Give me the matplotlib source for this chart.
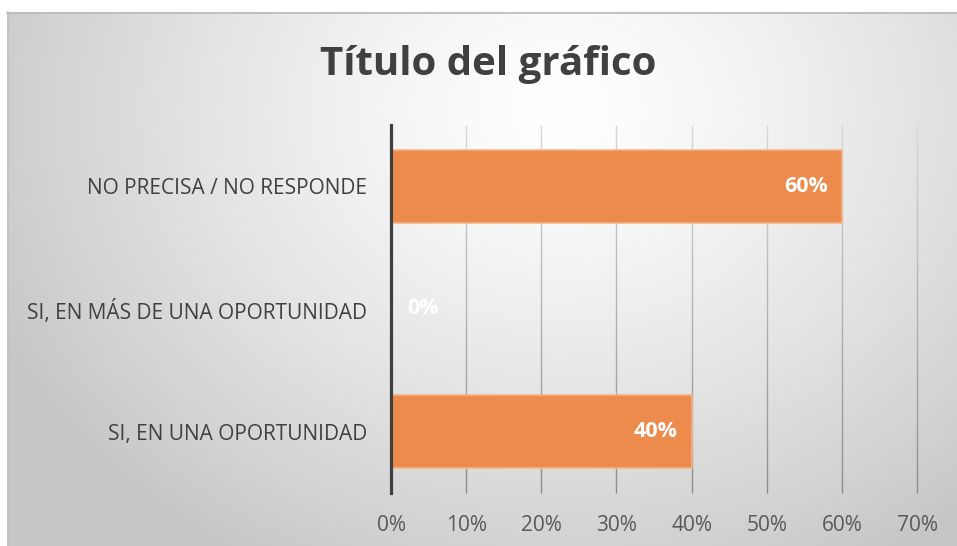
import numpy as np
import matplotlib
matplotlib.use("Agg")
import matplotlib.pyplot as plt

categories = ["SI, EN UNA OPORTUNIDAD", "SI, EN MÁS DE UNA OPORTUNIDAD", "NO PRECISA / NO RESPONDE"]
values = [0.40, 0.00, 0.60]
xticks = [0, 0.1, 0.2, 0.3, 0.4, 0.5, 0.6, 0.7]

plt.rcParams["font.family"] = ["Open Sans", "DejaVu Sans"]

W, H = 957, 546
fig = plt.figure(figsize=(W / 100, H / 100), dpi=100)

# background: radial grey gradient inside a framed chart area
bg = fig.add_axes([0, 0, 1, 1])
bg.set_xlim(0, W)
bg.set_ylim(H, 0)
bg.axis("off")
yy, xx = np.mgrid[0:H, 0:W]
d = np.sqrt(((xx - 560) / 620.0) ** 2 + ((yy - 110) / 520.0) ** 2)
shade = 1.0 - 0.22 * np.clip(d, 0, 1) ** 1.3
img = np.dstack([shade] * 3)
img[:12, :, :] = 1.0
img[:, :7, :] = 1.0
bg.imshow(img, extent=(0, W, H, 0), aspect="auto", interpolation="bilinear")
bg.plot([7, W], [12.5, 12.5], color="#b8b8b8", lw=1.2)
bg.plot([7.5, 7.5], [12, H], color="#c0c0c0", lw=1.2)

ax = fig.add_axes([391 / W, 1 - 493 / H, (917 - 391) / W, (493 - 125) / H])
ax.patch.set_alpha(0)
pos = np.arange(len(categories))
ax.barh(pos, values, height=0.59, color="#ec8b4c", edgecolor="#f3b58c", linewidth=1.2, zorder=3)
ax.set_xlim(0, 0.7)
ax.set_ylim(-0.5, len(categories) - 0.5)

# gridlines that darken toward the bottom
for t in xticks[1:]:
    n = 40
    ys = np.linspace(-0.5, len(categories) - 0.5, n + 1)
    for i in range(n):
        f = i / n
        g = 0.55 + 0.30 * f
        ax.plot([t, t], [ys[i], ys[i + 1]], color=(g, g, g), lw=1.0, zorder=1,
                solid_capstyle="butt", clip_on=False)

for s in ["top", "right", "bottom"]:
    ax.spines[s].set_visible(False)
ax.spines["left"].set_color("#3f3f3f")
ax.spines["left"].set_linewidth(2.3)
ax.spines["left"].set_zorder(5)

ax.set_yticks(pos)
ax.set_yticklabels(categories, fontsize=15, color="#404040")
ax.set_xticks(xticks)
ax.set_xticklabels(["{:.0f}%".format(t * 100) for t in xticks], fontsize=15, color="#595959")
ax.tick_params(axis="y", length=0, pad=17)
ax.tick_params(axis="x", length=0, pad=16)

for p, v in zip(pos, values):
    lab = "{:.0f}%".format(v * 100)
    if v > 0:
        ax.annotate(lab, (v, p), xytext=(-10, 0), textcoords="offset points",
                    ha="right", va="center", color="white", fontsize=15.5, fontweight="bold", zorder=6)
    else:
        ax.annotate(lab, (v, p), xytext=(12, 0), textcoords="offset points",
                    ha="left", va="center", color="white", fontsize=15.5, fontweight="bold", zorder=6)

fig.text(488 / W, 1 - 65 / H, "Título del gráfico", ha="center", va="center",
         fontsize=29, fontweight="bold", color="#404040")

fig.savefig("out.png", dpi=100)
